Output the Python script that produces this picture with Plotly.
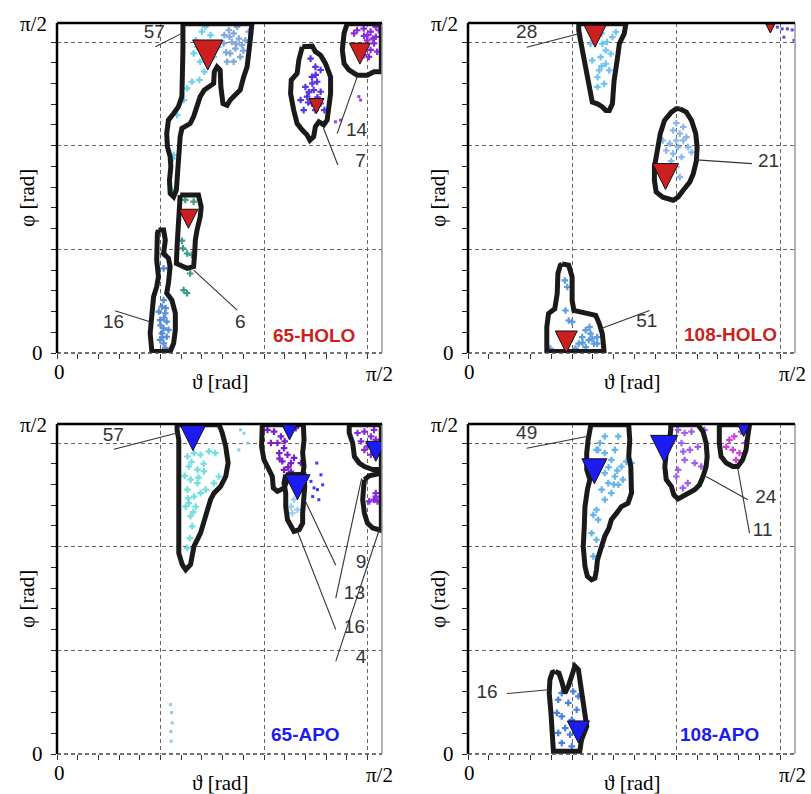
import plotly.graph_objects as go

# ---------------- DATA (degrees; pi/2 = 90) ----------------
# Panel 65-HOLO (top-left)
TL_CONTOUR_57 = [(36.5,95.3),(56.5,95.3),(55.9,89.6),(55.1,82.8),(54.1,79.9),(53.1,76.1),(51.2,74.2),(50.2,73.2),(49.3,71.7),(48.1,72.2),(47.5,77.0),(47.3,81.9),(46.4,82.8),(45.6,81.4),(45.4,78.0),(43.9,77.0),(42.7,76.1),(41.5,74.2),(40.6,71.3),(39.6,68.4),(38.6,66.4),(36.2,65.0),(35.7,62.6),(35.5,58.7),(35.2,54.9),(35.0,51.0),(34.6,47.2),(33.8,45.2),(32.8,46.2),(32.6,50.0),(33.0,53.9),(32.8,56.8),(32.0,59.7),(31.8,63.5),(32.3,67.4),(33.8,69.3),(35.2,71.3),(36.2,74.2),(36.5,80.9),(36.5,87.7),(36.5,95.3)]
TL_CONTOUR_6 = [(35.7,45.7),(41.0,45.7),(41.8,42.3),(41.5,39.4),(40.6,35.6),(40.1,32.7),(39.9,28.8),(39.6,25.0),(37.7,24.5),(35.7,25.5),(34.6,25.9),(34.8,30.8),(35.2,36.5),(35.2,40.4),(35.5,44.3),(35.7,45.7)]
TL_CONTOUR_16 = [(29.4,35.6),(30.9,35.6),(31.4,32.7),(30.9,28.8),(32.3,27.4),(32.8,25.0),(32.3,20.2),(31.8,17.3),(33.3,15.3),(34.3,11.5),(34.3,6.7),(33.8,2.8),(32.8,0.4),(27.5,0.4),(27.0,5.7),(27.5,11.5),(28.0,16.3),(28.9,19.2),(29.4,22.1),(28.9,26.9),(28.9,31.7),(29.1,34.6),(29.4,35.6)]
TL_CONTOUR_7 = [(71.1,88.6),(74.0,88.8),(74.9,87.2),(76.4,86.2),(77.8,83.8),(79.3,79.9),(79.3,75.1),(78.8,70.3),(78.3,67.4),(77.3,66.0),(75.9,66.9),(74.9,65.5),(74.4,62.6),(73.3,61.6),(72.5,63.1),(71.1,64.5),(69.6,66.4),(68.6,70.3),(67.7,75.1),(67.9,79.0),(69.6,80.9),(70.1,84.8),(70.6,87.7),(71.1,88.6)]
TL_CONTOUR_14 = [(84.1,95.3),(94.0,95.3),(94.0,81.4),(91.9,81.4),(89.9,80.4),(87.0,80.4),(84.6,81.9),(83.2,83.8),(82.7,87.7),(83.2,92.5),(84.1,95.3)]

TL_PTS_57_CYAN = [(43.0,94.4),(42.0,93.0),(40.6,88.6),(41.5,84.3),(42.7,81.4),(41.3,79.0),(39.1,78.5),(37.7,76.6),(36.7,73.2),(34.8,68.9),(33.8,57.3),(33.6,56.3),(33.3,47.2),(39.6,86.7),(45.4,85.7),(46.8,88.6),(44.5,92.0),(40.2,90.5)]
TL_PTS_57_BLUE = [(49.8,93.4),(51.2,92.5),(52.7,91.0),(54.6,90.5),(51.7,88.1),(53.1,85.7),(51.2,84.3),(49.3,84.3),(50.2,86.7),(55.6,93.0),(48.3,89.6),(53.6,89.1),(52.2,94.4),(50.7,90.0),(48.5,92.0),(54.0,87.5),(50.0,91.5),(52.0,89.5),(49.0,87.0)]
TL_PTS_6 = [(37.2,44.3),(39.6,43.8),(38.1,39.0),(36.2,32.5),(36.5,30.3),(37.7,28.8),(39.1,28.4),(38.6,23.0),(37.7,17.3),(36.7,18.2)]
TL_PTS_16 = [(30.9,15.3),(30.4,13.4),(31.4,11.5),(29.9,9.5),(31.8,9.1),(30.9,7.1),(30.4,5.7),(31.8,4.7),(30.9,2.8),(31.4,1.4),(29.9,3.8),(32.3,6.7),(30.7,28.8),(32.3,24.5),(30.9,24.5),(29.5,12.0),(31.0,10.2),(30.0,8.0),(31.5,13.0),(30.5,4.5)]
TL_PTS_7 = [(73.5,85.2),(74.9,82.8),(76.4,81.9),(73.9,79.9),(75.4,78.5),(72.0,77.0),(74.4,76.1),(76.4,75.6),(72.5,74.2),(70.6,73.2),(73.9,72.2),(76.4,72.2),(71.5,70.3),(74.9,70.3),(77.5,70.3),(75.0,80.5),(73.0,75.5),(74.0,78.0),(72.8,72.5),(75.5,74.0)]
TL_PTS_7_SPARSE = [(80.7,66.9),(82.2,67.4),(88.0,73.2),(87.5,74.2)]
TL_PTS_14 = [(87.0,93.4),(88.9,93.9),(90.9,93.0),(92.4,91.5),(89.9,90.5),(91.9,89.6),(90.9,87.7),(92.8,87.2),(88.9,86.2),(90.4,85.7),(86.1,92.5),(92.4,94.4),(93.3,93.4),(90.0,92.0),(91.5,91.0),(89.0,91.8)]

TL_TRI = [(43.7,81.9,30),(38.1,36.1,19),(75.2,69.3,15),(87.8,83.6,21)]
TL_LABELS = ["57","14","7","6","16"]
TL_LABEL_POS = [(28.2,92.5),(86.8,64.3),(88.0,55.2),(53.1,8.6),(16.4,8.6)]
TL_LEADERS = [((28.5,88.6),(36.2,92.5)),((81.2,63.5),(87.0,79.9)),((81.4,54.4),(77.2,65.2)),((52.2,12.4),(39.6,24.0)),((16.8,12.2),(26.7,9.1))]

# Panel 108-HOLO (top-right)
TR_CONTOUR_28 = [(31.9,95.3),(45.5,95.3),(45.0,92.4),(43.6,89.5),(43.1,85.6),(42.6,82.7),(42.1,78.9),(41.8,75.0),(41.6,72.1),(40.7,70.2),(39.7,70.2),(38.7,71.2),(37.3,72.1),(35.8,72.6),(35.3,75.0),(34.8,78.9),(33.9,82.7),(33.1,86.6),(32.4,90.5),(31.9,93.4),(31.9,95.3)]
TR_CONTOUR_21 = [(61.0,70.7),(62.9,69.7),(64.4,67.3),(65.6,63.5),(66.0,59.6),(65.8,55.7),(64.9,51.9),(63.9,49.5),(62.0,47.1),(60.5,45.1),(59.1,44.2),(57.6,44.6),(56.1,45.1),(54.2,46.6),(53.7,50.0),(53.7,53.8),(54.7,58.6),(55.4,63.5),(56.6,67.3),(58.6,69.7),(60.0,70.7),(61.0,70.7)]
TR_CONTOUR_51 = [(27.1,25.8),(29.0,25.4),(30.0,22.0),(30.0,15.2),(30.5,12.3),(33.9,11.4),(36.8,10.9),(37.8,8.5),(38.7,5.6),(39.2,0.4),(22.7,0.4),(22.7,7.5),(23.2,11.4),(25.0,12.8),(25.7,17.2),(25.9,23.0),(26.6,25.4),(27.1,25.8)]

TR_PTS_28 = [(38.7,89.5),(39.7,87.6),(38.2,85.6),(39.7,83.7),(37.8,81.8),(40.7,81.8),(37.3,79.8),(39.2,77.9),(37.3,77.0),(41.6,91.4),(42.6,92.9),(41.1,86.6),(35.3,89.5),(35.8,84.7),(38.5,92.5),(40.0,90.0),(38.5,83.0)]
TR_PTS_CORNER = [(90.5,93.8),(92.0,93.8),(93.4,93.5),(91.0,91.4),(93.9,90.5),(89.1,94.3)]
TR_PTS_21 = [(59.1,64.4),(61.0,63.5),(60.0,61.5),(62.0,61.5),(58.1,60.6),(60.5,59.6),(62.9,62.5),(59.1,57.7),(57.1,58.6),(61.5,56.7),(60.0,53.8),(63.4,59.6),(56.1,61.5),(61.0,50.9),(62.0,65.4),(64.4,58.1),(56.6,53.3),(60.0,66.5),(58.5,55.5)]
TR_PTS_51 = [(33.9,6.6),(35.3,5.6),(32.9,4.6),(34.8,3.7),(36.3,2.7),(33.9,1.7),(31.9,2.7),(37.2,4.6),(29.0,9.4),(30.0,9.0),(28.1,12.3),(28.6,19.1),(27.9,21.0),(31.0,1.3),(23.7,1.3),(37.2,2.7),(35.0,7.5),(33.0,3.0),(35.8,4.2)]

TR_TRI = [(36.6,88.5,22),(56.9,47.3,26),(28.3,0.0,22),(87.1,92.6,9)]
TR_LABELS = ["28","21","51"]
TR_LABEL_POS = [(16.9,92.4),(86.6,55.3),(51.5,9.0)]
TR_LEADERS = [((16.9,88.5),(31.9,92.4)),((81.8,54.8),(65.8,55.9)),((52.3,12.3),(38.2,7.0))]

# Panel 65-APO (bottom-left)
BL_CONTOUR_57 = [(34.8,95.3),(47.0,95.3),(47.9,92.9),(48.9,89.0),(49.6,84.2),(48.9,80.3),(47.4,77.4),(45.5,75.5),(44.5,73.6),(43.6,70.7),(42.6,67.8),(41.6,63.9),(39.7,60.1),(39.2,57.2),(38.7,54.8),(37.3,53.3),(36.3,54.8),(35.3,58.1),(35.3,63.9),(35.3,73.6),(35.3,83.2),(35.3,90.9),(34.8,93.8),(34.8,95.3)]
BL_CONTOUR_9 = [(59.5,95.3),(71.4,95.3),(71.6,90.9),(71.2,87.1),(71.6,83.2),(71.2,80.8),(67.8,80.8),(66.8,79.4),(65.8,77.0),(63.9,76.0),(62.7,77.0),(62.4,80.3),(61.0,83.2),(60.0,85.1),(59.3,89.0),(59.3,92.9),(59.5,95.3)]
BL_CONTOUR_16 = [(66.3,80.8),(71.6,80.8),(71.8,77.4),(71.4,73.6),(71.2,69.7),(71.2,66.8),(70.2,64.9),(68.7,64.4),(67.8,65.9),(66.8,67.8),(66.3,71.6),(66.3,75.5),(65.8,78.4),(66.3,80.8)]
BL_CONTOUR_13 = [(84.7,95.3),(94.0,95.3),(94.0,82.3),(91.5,82.3),(89.1,83.2),(87.6,84.2),(86.2,86.1),(85.7,90.0),(84.7,92.9),(84.7,95.3)]
BL_CONTOUR_4 = [(89.1,79.4),(90.5,80.5),(94.0,81.3),(94.0,64.7),(91.5,65.4),(90.0,66.8),(89.1,69.7),(88.6,73.6),(88.9,77.4),(89.1,79.4)]

BL_PTS_57 = [(37.8,86.1),(39.7,87.1),(41.6,86.6),(44.0,87.6),(38.2,83.2),(40.7,82.3),(42.6,81.8),(38.7,79.4),(40.7,78.4),(37.8,76.5),(39.7,74.5),(41.6,75.5),(38.2,72.6),(37.3,71.6),(40.2,71.6),(38.7,68.8),(39.2,65.9),(37.8,59.6),(45.9,87.1),(46.9,80.3),(45.5,78.4),(43.1,76.5),(37.0,80.5),(39.0,84.5),(41.0,80.0),(38.0,74.0),(39.5,70.0),(38.5,62.5),(42.5,84.0)]
BL_PTS_SPARSE = [(53.2,93.8),(52.7,88.0),(54.2,92.8),(55.2,90.0),(32.9,14.3),(33.4,9.0),(33.1,3.7),(33.2,12.0),(33.0,6.5)]
BL_PTS_9 = [(61.0,93.8),(62.9,93.3),(64.9,91.9),(63.9,90.0),(65.8,88.5),(64.4,87.1),(66.8,86.6),(65.3,84.7),(67.8,84.2),(68.7,85.7),(70.7,84.2),(65.8,82.2),(67.8,81.7),(62.0,90.0),(69.2,94.3),(66.0,90.5),(64.5,85.5),(67.0,83.0)]
BL_PTS_BLUE = [(74.5,77.0),(75.5,76.5),(76.5,80.8),(73.6,78.9),(75.9,73.6),(77.0,77.9),(74.1,74.5),(75.3,84.2)]
BL_PTS_16 = [(67.8,71.6),(68.7,73.6),(68.2,69.7),(69.7,70.7)]
BL_PTS_13 = [(87.1,92.9),(89.1,93.3),(91.0,91.9),(88.1,90.5),(90.0,89.0),(91.9,93.8),(92.4,91.0),(89.1,88.0),(91.0,86.6),(92.8,89.0)]
BL_PTS_4 = [(92.4,75.5),(91.9,73.6),(90.5,73.1),(92.9,73.1),(92.4,74.5)]

BL_TRI = [(39.4,87.8,25),(67.4,90.9,20),(69.7,73.6,25),(92.4,84.7,20)]
BL_LABELS = ["57","9","13","16","4"]
BL_LABEL_POS = [(16.3,92.1),(88.1,55.1),(86.2,46.1),(86.2,36.5),(88.1,27.8)]
BL_LEADERS = [((16.5,88.2),(34.8,92.9)),((80.8,54.6),(71.8,73.6)),((80.8,45.1),(88.3,79.8)),((80.8,36.0),(69.7,64.4)),((80.8,26.8),(93.4,64.9))]

# Panel 108-APO (bottom-right)
BR_CONTOUR_49 = [(35.4,95.3),(46.3,95.3),(46.6,90.9),(46.3,86.1),(46.9,83.2),(47.1,79.4),(47.1,75.5),(46.1,72.6),(44.2,71.6),(42.8,69.7),(41.3,67.8),(40.6,65.4),(39.4,63.0),(38.5,60.1),(37.3,56.2),(37.0,53.3),(36.6,50.9),(35.6,50.4),(34.4,51.4),(33.7,54.3),(33.2,60.1),(33.5,65.9),(33.7,71.6),(34.4,76.5),(35.1,79.4),(34.2,82.3),(34.2,87.1),(34.6,90.9),(35.4,95.3)]
BR_CONTOUR_24 = [(58.4,95.3),(66.2,95.3),(67.7,93.3),(68.6,90.0),(68.9,86.1),(68.6,83.2),(67.7,80.3),(66.7,77.9),(65.3,76.5),(63.3,75.5),(61.9,74.5),(60.5,73.8),(59.3,75.0),(58.6,77.4),(57.1,79.4),(56.7,83.2),(57.1,87.1),(58.1,90.9),(58.4,93.8),(58.4,95.3)]
BR_CONTOUR_11 = [(72.4,95.3),(81.1,95.3),(80.6,91.9),(80.1,88.0),(79.1,85.1),(77.7,83.2),(76.3,83.2),(74.4,84.2),(72.9,86.1),(72.4,90.0),(72.4,92.9),(72.4,95.3)]
BR_CONTOUR_16 = [(25.1,23.9),(26.2,23.4),(27.0,21.0),(27.9,17.6),(28.9,19.6),(29.7,22.5),(30.8,25.4),(31.8,24.4),(32.2,21.5),(32.7,16.7),(33.2,12.8),(34.2,8.0),(32.7,4.1),(32.2,0.8),(24.6,0.8),(24.1,6.1),(23.9,11.9),(23.4,17.6),(23.6,21.5),(24.3,23.6),(25.1,23.9)]

BR_PTS_49 = [(39.4,91.9),(43.3,91.9),(37.5,88.0),(39.4,87.1),(41.3,85.1),(44.2,83.2),(45.6,84.6),(39.4,81.3),(42.3,80.3),(44.6,79.4),(40.4,78.4),(43.3,77.9),(38.5,76.5),(41.3,75.5),(39.4,73.6),(37.0,70.7),(36.1,69.2),(37.5,67.8),(35.6,63.9),(37.0,62.0),(36.1,57.2),(37.0,88.0),(42.3,88.0),(47.1,84.2),(40.5,83.0),(42.0,78.0),(38.0,90.0),(43.0,82.0)]
BR_PTS_24 = [(60.5,93.8),(62.4,92.9),(64.4,93.3),(61.5,90.0),(63.9,88.0),(66.2,88.9),(62.4,85.1),(65.3,84.2),(67.2,83.2),(60.5,82.2),(60.0,80.3),(63.3,78.4),(61.9,77.0),(68.1,93.8),(62.0,87.5)]
BR_PTS_11 = [(75.3,90.9),(76.7,91.9),(78.7,93.3),(80.6,94.3),(76.3,88.0),(78.2,87.1),(74.4,88.9),(77.2,85.1),(79.8,90.0)]
BR_PTS_16 = [(27.0,17.6),(30.3,18.1),(26.0,15.7),(28.9,14.8),(31.3,12.8),(27.0,10.9),(29.9,9.9),(28.0,7.5),(26.0,6.1),(29.4,5.6),(27.0,3.2),(29.9,2.2),(31.8,16.7),(25.6,11.9)]

BR_TRI = [(36.4,78.2,25),(56.5,84.4,27),(79.4,91.9,16),(31.8,3.2,22)]
BR_LABELS = ["49","24","11","16"]
BR_LABEL_POS = [(16.9,92.4),(85.8,74.1),(84.9,64.4),(5.5,17.6)]
BR_LEADERS = [((16.9,88.5),(34.2,91.9)),((80.6,73.6),(68.6,80.3)),((81.1,63.9),(77.7,82.7)),((11.2,17.5),(23.2,18.6))]

PANEL_TITLES = ["65-HOLO", "108-HOLO", "65-APO", "108-APO"]
PANEL_TITLE_POS = [(74.4,5.2),(75.5,5.4),(72.1,5.6),(72.4,5.6)]
Y_TITLES = ["φ [rad]", "φ [rad]", "φ [rad]", "φ (rad)"]
X_TITLE = "ϑ [rad]"
TICK_ZERO = "0"
TICK_HALF_PI = "π/2"

# ---------------- STYLE ----------------
RED = "#cc1f1f"
BLUE = "#1c1cf0"
X_RANGE = [0, 94.2]
Y_RANGE = [0, 95.5]
LABEL_FONT = dict(family="Liberation Sans Narrow, Liberation Sans, Arial", size=19, color="#333333")
SERIF = "Liberation Serif, Times New Roman, serif"

panels = [
    dict(ax=("x", "y"), dom=([57/811, 382/811], [1-353/794, 1-23/794]),
         contours=[TL_CONTOUR_57, TL_CONTOUR_6, TL_CONTOUR_16, TL_CONTOUR_7, TL_CONTOUR_14],
         pts=[(TL_PTS_57_CYAN, "#6cd0f0"), (TL_PTS_57_BLUE, "#80a8e0"), (TL_PTS_6, "#3f9a8c"),
              (TL_PTS_16, "#5b8fdc"), (TL_PTS_7, "#5a35e8"), (TL_PTS_7_SPARSE, "#9a40f0"), (TL_PTS_14, "#8a2be2")],
         tri=TL_TRI, tcol=RED, labels=TL_LABELS, lpos=TL_LABEL_POS, leaders=TL_LEADERS, tcolor=RED),
    dict(ax=("x2", "y2"), dom=([468/811, 795/811], [1-353/794, 1-23/794]),
         contours=[TR_CONTOUR_28, TR_CONTOUR_21, TR_CONTOUR_51],
         pts=[(TR_PTS_28, "#70c4ee"), (TR_PTS_CORNER, "#5a4af0"), (TR_PTS_21, "#8ab8ee"), (TR_PTS_51, "#5b9de0")],
         tri=TR_TRI, tcol=RED, labels=TR_LABELS, lpos=TR_LABEL_POS, leaders=TR_LEADERS, tcolor=RED),
    dict(ax=("x3", "y3"), dom=([57/811, 382/811], [1-754/794, 1-424/794]),
         contours=[BL_CONTOUR_57, BL_CONTOUR_9, BL_CONTOUR_16, BL_CONTOUR_13, BL_CONTOUR_4],
         pts=[(BL_PTS_57, "#74dde0"), (BL_PTS_SPARSE, "#88ccee"), (BL_PTS_9, "#7d1fc8"), (BL_PTS_BLUE, "#3a3aff"),
              (BL_PTS_16, "#9ad0f0"), (BL_PTS_13, "#8a2bd8"), (BL_PTS_4, "#8a2be2")],
         tri=BL_TRI, tcol=BLUE, labels=BL_LABELS, lpos=BL_LABEL_POS, leaders=BL_LEADERS, tcolor=BLUE),
    dict(ax=("x4", "y4"), dom=([468/811, 795/811], [1-754/794, 1-424/794]),
         contours=[BR_CONTOUR_49, BR_CONTOUR_24, BR_CONTOUR_11, BR_CONTOUR_16],
         pts=[(BR_PTS_49, "#66b5e8"), (BR_PTS_24, "#a060ee"), (BR_PTS_11, "#d040e0"), (BR_PTS_16, "#4a80dd")],
         tri=BR_TRI, tcol=BLUE, labels=BR_LABELS, lpos=BR_LABEL_POS, leaders=BR_LEADERS, tcolor=BLUE),
]
SPARSE_SETS = {id(TL_PTS_7_SPARSE), id(BL_PTS_SPARSE), id(TR_PTS_CORNER), id(BL_PTS_BLUE)}

fig = go.Figure()
layout = dict(width=811, height=794, margin=dict(l=0, r=0, t=0, b=0),
              paper_bgcolor="white", plot_bgcolor="white", showlegend=False)
annotations = []
shapes = []
minor_vals = [v for v in range(0, 91, 6)]

for i, p in enumerate(panels):
    xa, ya = p["ax"]
    xkey = "xaxis" if xa == "x" else "xaxis" + xa[1:]
    ykey = "yaxis" if ya == "y" else "yaxis" + ya[1:]
    layout[xkey] = dict(domain=p["dom"][0], range=X_RANGE, anchor=ya, tickvals=[30, 60, 90],
                        showticklabels=False, ticks="outside", ticklen=5, tickcolor="#333",
                        showgrid=True, gridcolor="#666", griddash="4px,3px", gridwidth=1.3,
                        zeroline=False, showline=False,
                        minor=dict(tickvals=minor_vals, ticks="outside", ticklen=5, tickcolor="#333", showgrid=False))
    layout[ykey] = dict(domain=p["dom"][1], range=Y_RANGE, anchor=xa, tickvals=[30, 60, 90],
                        showticklabels=False, ticks="outside", ticklen=5, tickcolor="#222",
                        showgrid=True, gridcolor="#666", griddash="4px,3px", gridwidth=1.3,
                        zeroline=False, showline=False,
                        minor=dict(tickvals=minor_vals, ticks="outside", ticklen=5, tickcolor="#222", showgrid=False))
    xd, yd = xa + " domain", ya + " domain"
    # frame
    shapes.append(dict(type="line", xref=xd, yref=yd, x0=0, x1=1, y0=0, y1=0,
                       line=dict(color="#444", width=1.5, dash="4px,3px")))
    shapes.append(dict(type="line", xref=xd, yref=yd, x0=1, x1=1, y0=0, y1=1,
                       line=dict(color="#999", width=1.5)))
    shapes.append(dict(type="line", xref=xd, yref=yd, x0=0, x1=1, y0=1, y1=1,
                       line=dict(color="black", width=2.5)))
    shapes.append(dict(type="line", xref=xd, yref=yd, x0=0, x1=0, y0=0, y1=1,
                       line=dict(color="black", width=2.5)))

    # scatter clouds
    for pts, col in p["pts"]:
        sparse = id(pts) in SPARSE_SETS
        fig.add_trace(go.Scatter(x=[a for a, b in pts], y=[b for a, b in pts], mode="markers",
                                 marker=dict(symbol="square" if sparse else "cross", size=3 if sparse else 5.5,
                                             color=col, opacity=1, line=dict(width=0)),
                                 xaxis=xa, yaxis=ya, hoverinfo="skip"))
    # contours
    for c in p["contours"]:
        fig.add_trace(go.Scatter(x=[a for a, b in c], y=[b for a, b in c], mode="lines",
                                 line=dict(color="#1a1a1a", width=5), xaxis=xa, yaxis=ya, hoverinfo="skip"))
    # leaders
    for (x0, y0), (x1, y1) in p["leaders"]:
        fig.add_trace(go.Scatter(x=[x0, x1], y=[y0, y1], mode="lines",
                                 line=dict(color="#333", width=1.1), xaxis=xa, yaxis=ya, hoverinfo="skip"))
    # triangles (apex at the value)
    tri = p["tri"]
    fig.add_trace(go.Scatter(x=[t[0] for t in tri], y=[t[1] for t in tri], mode="markers",
                             marker=dict(symbol="arrow-down", size=[t[2] for t in tri], color=p["tcol"],
                                         opacity=1, line=dict(color="#111", width=1)),
                             xaxis=xa, yaxis=ya, hoverinfo="skip"))
    # labels
    fig.add_trace(go.Scatter(x=[q[0] for q in p["lpos"]], y=[q[1] for q in p["lpos"]], mode="text",
                             text=p["labels"], textposition="middle center", textfont=LABEL_FONT,
                             xaxis=xa, yaxis=ya, hoverinfo="skip", cliponaxis=False))
    tx, ty = PANEL_TITLE_POS[i]
    annotations.append(dict(x=tx, y=ty, xref=xa, yref=ya, text="<b>%s</b>" % PANEL_TITLES[i], showarrow=False,
                            font=dict(family="Liberation Sans, Arial", size=19, color=p["tcolor"])))
    # tick labels
    tf = dict(family=SERIF, size=21, color="black")
    annotations += [
        dict(x=0, y=1, xref=xd, yref=yd, text=TICK_HALF_PI, showarrow=False, xanchor="right", yanchor="middle",
             xshift=-8, yshift=-1, font=tf),
        dict(x=0, y=0, xref=xd, yref=yd, text=TICK_ZERO, showarrow=False, xanchor="right", yanchor="middle",
             xshift=-12, font=tf),
        dict(x=0, y=0, xref=xa, yref=yd, text=TICK_ZERO, showarrow=False, xanchor="center", yanchor="top",
             xshift=2, yshift=-5, font=tf),
        dict(x=90, y=0, xref=xa, yref=yd, text=TICK_HALF_PI, showarrow=False, xanchor="center", yanchor="top",
             xshift=12, yshift=-7, font=tf),
        dict(x=0.5, y=0, xref=xd, yref=yd, text=X_TITLE, showarrow=False, xanchor="center", yanchor="middle",
             yshift=-29, font=tf),
        dict(x=0, y=0.47, xref=xd, yref=yd, text=Y_TITLES[i], showarrow=False, xanchor="center", yanchor="middle",
             xshift=-30, textangle=-90, font=tf),
    ]

layout["annotations"] = annotations
layout["shapes"] = shapes
fig.update_layout(**layout)
fig.write_html("out.html", config={"displayModeBar": False},
               post_script="document.body.style.margin='0';document.body.style.overflow='hidden';")
